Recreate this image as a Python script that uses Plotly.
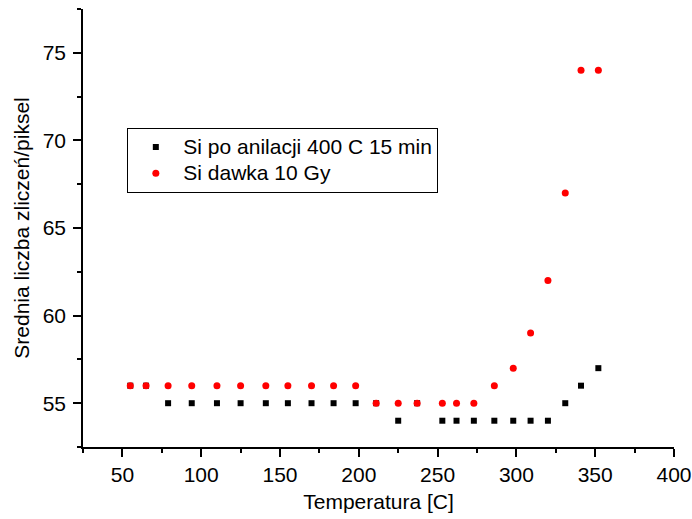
import plotly.graph_objects as go

temperature = [55, 65, 79, 94, 110, 125, 141, 155, 170, 184, 198, 211,
               225, 237, 253, 262, 273, 286, 298, 309, 320, 331, 341, 352]
si_anneal = [56, 56, 55, 55, 55, 55, 55, 55, 55, 55, 55, 55,
             54, 55, 54, 54, 54, 54, 54, 54, 54, 55, 56, 57]
si_dose = [56, 56, 56, 56, 56, 56, 56, 56, 56, 56, 56, 55,
           55, 55, 55, 55, 55, 56, 57, 59, 62, 67, 74, 74]

FONT = "Arial, Liberation Sans, sans-serif"


def big(text):
    return '<span style="font-size:21px">' + text + '</span>'


fig = go.Figure()
fig.add_trace(go.Scatter(
    x=temperature, y=si_anneal, mode="markers",
    name=big("Si po anilacji 400 C 15 min"),
    marker=dict(symbol="square", size=6, color="black"),
))
fig.add_trace(go.Scatter(
    x=temperature, y=si_dose, mode="markers",
    name=big("Si dawka 10 Gy"),
    marker=dict(symbol="circle", size=7, color="red"),
))

axis_common = dict(
    showline=True, linecolor="black", linewidth=1.5,
    ticks="outside", ticklen=8, tickwidth=1.5, tickcolor="black",
    showgrid=False, zeroline=False, mirror=False, automargin=False,
    tickfont=dict(family=FONT, size=21, color="black"),
)

fig.update_xaxes(
    range=[25, 400], tick0=0, dtick=50,
    title=dict(text="Temperatura [C]", font=dict(family=FONT, size=21, color="black"), standoff=9),
    minor=dict(dtick=25, tick0=0, ticks="outside", ticklen=4, tickwidth=1.5, tickcolor="black"),
    **axis_common,
)
fig.update_yaxes(
    range=[52.5, 77.5], tick0=0, dtick=5, ticklabelstandoff=3,
    title=dict(text="Srednia liczba zliczeń/piksel", font=dict(family=FONT, size=21, color="black"), standoff=7),
    minor=dict(dtick=2.5, tick0=0, ticks="outside", ticklen=4, tickwidth=1.5, tickcolor="black"),
    **axis_common,
)

fig.update_layout(
    width=692, height=519,
    margin=dict(l=83, r=18, t=9, b=72),
    plot_bgcolor="white", paper_bgcolor="white",
    font=dict(family=FONT, size=21, color="black"),
    legend=dict(
        x=0.075, y=0.729, xanchor="left", yanchor="top",
        bordercolor="black", borderwidth=1, bgcolor="white",
        font=dict(family=FONT, size=18, color="black"),
        itemwidth=45, tracegroupgap=0,
    ),
    showlegend=True,
)

fig.write_html("out.html")
